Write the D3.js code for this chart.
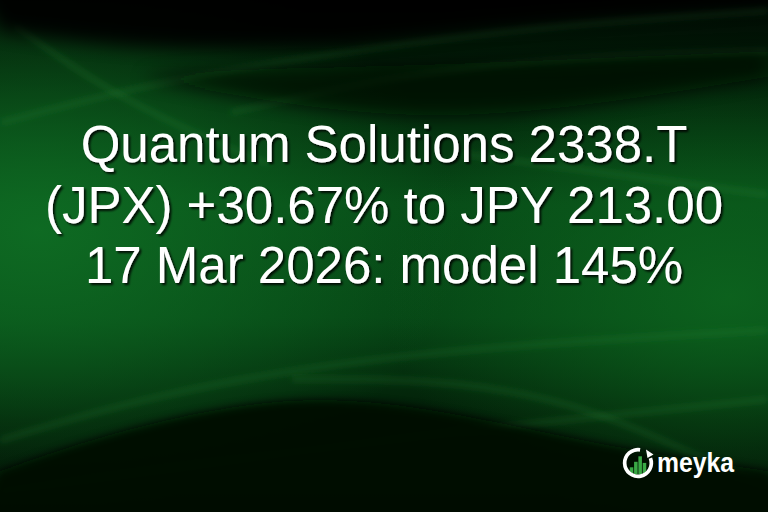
<!DOCTYPE html>
<html>
<head>
<meta charset="utf-8">
<script src="https://cdn.jsdelivr.net/npm/d3@7"></script>
<style>
  html, body { margin: 0; padding: 0; background: #010c03; }
  svg { display: block; }
</style>
</head>
<body>
<svg id="card"></svg>
<script>
// headline lines, top to bottom
const titleLines = [
  "Quantum Solutions 2338.T",
  "(JPX) +30.67% to JPY 213.00",
  "17 Mar 2026: model 145%"
];
const brandName = "meyka";
// logo bar heights (relative, 0..1)
const logoBars = [0.35, 0.6, 0.85, 0.55];

// background waves, normalized [x, y]
const darkTop = [[0, 0.06], [0.2, 0.1], [0.45, 0.09], [0.7, 0.04], [1, 0.01]];
const darkMid = [[0.18, 0.15], [0.35, 0.2], [0.55, 0.235], [0.75, 0.21], [0.92, 0.17], [1, 0.15]];
const darkMidTop = [[1, 0.1], [0.75, 0.115], [0.5, 0.13], [0.3, 0.135], [0.18, 0.15]];
const darkHump = [[0, 0.92], [0.15, 0.84], [0.38, 0.765], [0.58, 0.8], [0.78, 0.87], [1, 0.92]];
const streaks = [
  [[0, 0.24], [0.2, 0.16], [0.45, 0.1], [0.7, 0.05], [1, 0.02]],
  [[0.3, 0.22], [0.5, 0.15], [0.75, 0.11], [1, 0.1]],
  [[0.6, 0.3], [0.8, 0.34], [1, 0.38]],
  [[0, 0.86], [0.2, 0.77], [0.45, 0.705], [0.7, 0.67], [1, 0.645]],
  [[0, 0.96], [0.3, 0.9], [0.6, 0.84], [1, 0.78]],
  [[0.38, 0.74], [0.6, 0.74], [0.78, 0.8], [0.92, 0.9], [1, 0.95]],
  [[0.02, 0.05], [0.12, 0.16], [0.25, 0.26], [0.35, 0.32]]
];

const width = 768;
const height = 512;

const x = d3.scaleLinear().domain([0, 1]).range([0, width]);
const y = d3.scaleLinear().domain([0, 1]).range([0, height]);
const curve = d3.line().x(d => x(d[0])).y(d => y(d[1])).curve(d3.curveBasis);

const svg = d3.select("#card").attr("width", width).attr("height", height);
const defs = svg.append("defs");

// vertical base gradient
const base = defs.append("linearGradient").attr("id", "base")
  .attr("x1", 0).attr("y1", 0).attr("x2", 0).attr("y2", 1);
[[0, "#010903"], [0.15, "#021f08"], [0.4, "#074b17"], [0.62, "#064515"], [0.82, "#021c07"], [1, "#010903"]]
  .forEach(s => base.append("stop").attr("offset", s[0]).attr("stop-color", s[1]));

const glowL = defs.append("radialGradient").attr("id", "glowL")
  .attr("cx", 0.05).attr("cy", 0.45).attr("r", 0.55);
glowL.append("stop").attr("offset", 0).attr("stop-color", "#0f6e24").attr("stop-opacity", 0.9);
glowL.append("stop").attr("offset", 1).attr("stop-color", "#0f6e24").attr("stop-opacity", 0);

const glowR = defs.append("radialGradient").attr("id", "glowR")
  .attr("cx", 0.95).attr("cy", 0.58).attr("r", 0.45);
glowR.append("stop").attr("offset", 0).attr("stop-color", "#0d661f").attr("stop-opacity", 0.85);
glowR.append("stop").attr("offset", 1).attr("stop-color", "#0d661f").attr("stop-opacity", 0);

defs.append("filter").attr("id", "soft").attr("x", "-20%").attr("y", "-50%").attr("width", "140%").attr("height", "200%")
  .append("feGaussianBlur").attr("stdDeviation", 9);
defs.append("filter").attr("id", "edge").attr("x", "-20%").attr("y", "-50%").attr("width", "140%").attr("height", "200%")
  .append("feGaussianBlur").attr("stdDeviation", 4);
defs.append("filter").attr("id", "haze").attr("x", "-10%").attr("y", "-50%").attr("width", "120%").attr("height", "200%")
  .append("feGaussianBlur").attr("stdDeviation", 3);
defs.append("filter").attr("id", "shadow").attr("x", "-10%").attr("y", "-30%").attr("width", "120%").attr("height", "160%")
  .append("feDropShadow").attr("dx", 2).attr("dy", 2).attr("stdDeviation", 1.2)
  .attr("flood-color", "#000").attr("flood-opacity", 0.85);

svg.append("rect").attr("width", width).attr("height", height).attr("fill", "url(#base)");
svg.append("rect").attr("width", width).attr("height", height).attr("fill", "url(#glowL)");
svg.append("rect").attr("width", width).attr("height", height).attr("fill", "url(#glowR)");

const bg = svg.append("g");

// light streaks (soft)
bg.selectAll("path.streak").data(streaks)
  .join("path").attr("class", "streak")
  .attr("d", d => curve(d))
  .attr("fill", "none")
  .attr("stroke", "#2c9a3e")
  .attr("stroke-width", 5)
  .attr("stroke-opacity", 0.22)
  .attr("filter", "url(#haze)");

// dark top band
bg.append("path")
  .attr("d", curve(darkTop) + `L${x(1.05)},${y(-0.1)}L${x(-0.05)},${y(-0.1)}Z`)
  .attr("fill", "#000501").attr("opacity", 0.92).attr("filter", "url(#soft)");

// dark swoosh above the headline
bg.append("path")
  .attr("d", curve(darkMidTop.concat(darkMid)) + "Z")
  .attr("fill", "#010b03").attr("opacity", 0.75).attr("filter", "url(#soft)");

// dark hump near the bottom
bg.append("path")
  .attr("d", curve(darkHump) + `L${x(1.05)},${y(1.05)}L${x(-0.05)},${y(1.05)}Z`)
  .attr("fill", "#010a03").attr("opacity", 0.95).attr("filter", "url(#edge)");

// headline
svg.append("g").attr("filter", "url(#shadow)")
  .selectAll("text").data(titleLines)
  .join("text")
  .attr("x", width / 2)
  .attr("y", (d, i) => 162 + i * 60.5)
  .attr("text-anchor", "middle")
  .style("font-family", "'Liberation Sans', Arial, sans-serif")
  .style("font-size", "51px")
  .attr("fill", "#ffffff")
  .text(d => d);

// logo
const logo = svg.append("g").attr("transform", "translate(638,463)");
defs.append("clipPath").attr("id", "inner").append("circle").attr("r", 11.5);

const bx = d3.scaleBand().domain(d3.range(logoBars.length)).range([-9, 9]).padding(0.18);
const by = d3.scaleLinear().domain([0, 1]).range([12, -10]);
logo.append("g").attr("clip-path", "url(#inner)")
  .selectAll("rect").data(logoBars)
  .join("rect")
  .attr("x", (d, i) => bx(i))
  .attr("y", d => by(d))
  .attr("width", bx.bandwidth())
  .attr("height", d => 12 - by(d))
  .attr("fill", "#3aa845");

const arc = d3.arc().innerRadius(11.5).outerRadius(15.2)
  .startAngle(Math.PI * 0.38).endAngle(Math.PI * 2.05);
logo.append("path").attr("d", arc()).attr("fill", "#ffffff");
logo.append("path").attr("d", "M8,-13.5 L15.5,-8.5 L9.5,-5 Z").attr("fill", "#ffffff");

svg.append("text")
  .attr("x", 657)
  .attr("y", 472)
  .attr("textLength", 77)
  .attr("lengthAdjust", "spacingAndGlyphs")
  .style("font-family", "'Liberation Sans', Arial, sans-serif")
  .style("font-size", "27px")
  .style("font-weight", "bold")
  .attr("fill", "#ffffff")
  .text(brandName);
</script>
</body>
</html>
